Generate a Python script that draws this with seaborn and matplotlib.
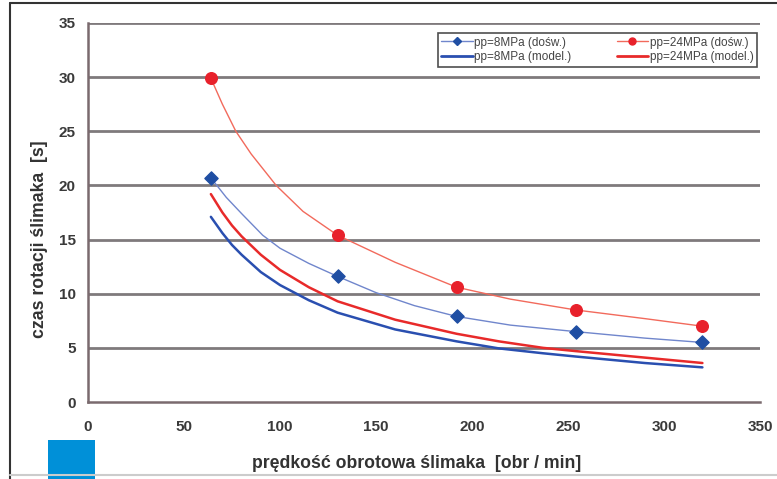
import matplotlib
matplotlib.use("Agg")
import matplotlib.pyplot as plt
import matplotlib.patches as patches
import matplotlib.lines as mlines
import seaborn as sns
import pandas as pd

# measured points (doświadczenie)
n_exp = [64, 130, 192, 254, 320]
t_exp_8 = [20.7, 11.6, 7.9, 6.5, 5.5]
t_exp_24 = [29.9, 15.4, 10.6, 8.5, 7.0]

n_tr8 = [64, 72, 80, 91, 100, 115, 130, 150, 170, 192, 220, 254, 290, 320]
t_tr8 = [20.7, 18.9, 17.4, 15.4, 14.2, 12.8, 11.6, 10.1, 8.9, 7.9, 7.1,
         6.5, 5.9, 5.5]
n_tr24 = [64, 70, 77, 85, 98, 112, 130, 160, 192, 220, 254, 290, 320]
t_tr24 = [29.9, 27.5, 25.0, 22.9, 20.0, 17.6, 15.4, 12.9, 10.6, 9.5, 8.5,
          7.7, 7.0]

# model curves
n_mod = [64, 70, 75, 80, 90, 100, 115, 130, 160, 192, 214, 237, 254, 290, 320]
t_mod_8 = [17.1, 15.6, 14.5, 13.6, 12.0, 10.8, 9.4, 8.25, 6.7, 5.6, 4.95,
           4.5, 4.2, 3.6, 3.2]
t_mod_24 = [19.2, 17.5, 16.3, 15.3, 13.6, 12.2, 10.6, 9.3, 7.6, 6.3, 5.6,
            5.0, 4.7, 4.1, 3.6]

labels = ["pp=8MPa (dośw.)", "pp=8MPa (model.)",
          "pp=24MPa (dośw.)", "pp=24MPa (model.)"]

sns.set_style("white")
plt.rcParams['font.family'] = ['Liberation Sans', 'DejaVu Sans']

fig = plt.figure(figsize=(7.77, 4.79), dpi=100)
W, H = 777, 479
ax = fig.add_axes([88 / W, 1 - 402 / H, (760 - 88) / W, (402 - 23) / H])

blue_mk = "#1f4ea3"
blue_ln = "#7086cc"
red_mk = "#e8212b"
red_ln = "#f26a5c"
blue_md = "#2a4fb0"
red_md = "#e82a2a"

tr8 = pd.DataFrame({"n": n_tr8, "t": t_tr8})
tr24 = pd.DataFrame({"n": n_tr24, "t": t_tr24})
mod = pd.DataFrame({"n": n_mod, "t8": t_mod_8, "t24": t_mod_24})

sns.lineplot(data=tr24, x="n", y="t", ax=ax, color=red_ln, lw=1.0, sort=False)
sns.lineplot(data=tr8, x="n", y="t", ax=ax, color=blue_ln, lw=1.0, sort=False)
sns.lineplot(data=mod, x="n", y="t24", ax=ax, color=red_md, lw=1.8)
sns.lineplot(data=mod, x="n", y="t8", ax=ax, color=blue_md, lw=1.8)
ax.scatter(n_exp, t_exp_24, marker="o", s=70, color=red_mk, zorder=5)
ax.scatter(n_exp, t_exp_8, marker="D", s=45, color=blue_mk, zorder=5)

ax.set_xlim(0, 350)
ax.set_ylim(0, 35)
ax.set_xticks(range(0, 351, 50))
ax.set_yticks(range(0, 36, 5))
for y in range(5, 36, 5):
    ax.axhline(y, color="#7f7a7c", lw=2, zorder=1)

for s in ["top", "right"]:
    ax.spines[s].set_visible(False)
for s in ["left", "bottom"]:
    ax.spines[s].set_color("#7a6a6e")
    ax.spines[s].set_linewidth(1.8)
ax.tick_params(axis="both", direction="out", length=5, width=1.5,
               color="#7a6a6e", labelsize=11, labelcolor="#3a3a3a", pad=4)
ax.tick_params(axis="x", pad=8)
for lab in ax.get_xticklabels() + ax.get_yticklabels():
    lab.set_fontweight("bold")

ax.set_xlabel("")
ax.set_ylabel("")
fig.text(417 / W, 1 - 463 / H, "prędkość obrotowa ślimaka  [obr / min]",
         ha="center", va="center", fontsize=12.7, fontweight="bold",
         color="#333333")
fig.text(40 / W, 1 - 239 / H, "czas rotacji ślimaka  [s]", rotation=90,
         ha="center", va="center", fontsize=12.7, fontweight="bold",
         color="#333333")

handles = [
    mlines.Line2D([], [], color=blue_ln, lw=1, marker="D", markersize=4,
                  markerfacecolor=blue_mk, markeredgecolor=blue_mk),
    mlines.Line2D([], [], color=blue_md, lw=2),
    mlines.Line2D([], [], color=red_ln, lw=1, marker="o", markersize=5,
                  markerfacecolor=red_mk, markeredgecolor=red_mk),
    mlines.Line2D([], [], color=red_md, lw=2),
]
leg = ax.legend(handles, labels, ncol=2, loc="upper right",
                bbox_to_anchor=(757 / W, 1 - 33 / H),
                bbox_transform=fig.transFigure, fontsize=8.5,
                frameon=True, fancybox=False, borderpad=0.3,
                labelspacing=0.25, handlelength=2.7, handletextpad=0.1,
                columnspacing=3.8, borderaxespad=0)
leg.get_frame().set_edgecolor("#222222")
leg.get_frame().set_linewidth(1.2)
for t in leg.get_texts():
    t.set_color("#444444")

# outer frame and the blue square
fig.add_artist(mlines.Line2D([10 / W, 10 / W], [1 - 479 / H, 1 - 3 / H],
                             transform=fig.transFigure, color="#333333", lw=1.5))
fig.add_artist(mlines.Line2D([10 / W, 1], [1 - 3 / H, 1 - 3 / H],
                             transform=fig.transFigure, color="#333333", lw=1.5))
fig.add_artist(mlines.Line2D([10 / W, 1], [1 - 475 / H, 1 - 475 / H],
                             transform=fig.transFigure, color="#cccccc", lw=1.5))
fig.add_artist(patches.Rectangle((48 / W, 0), 47 / W, 39 / H,
                                 transform=fig.transFigure,
                                 facecolor="#0090d8", edgecolor="none"))

fig.savefig("out.png", dpi=100)
